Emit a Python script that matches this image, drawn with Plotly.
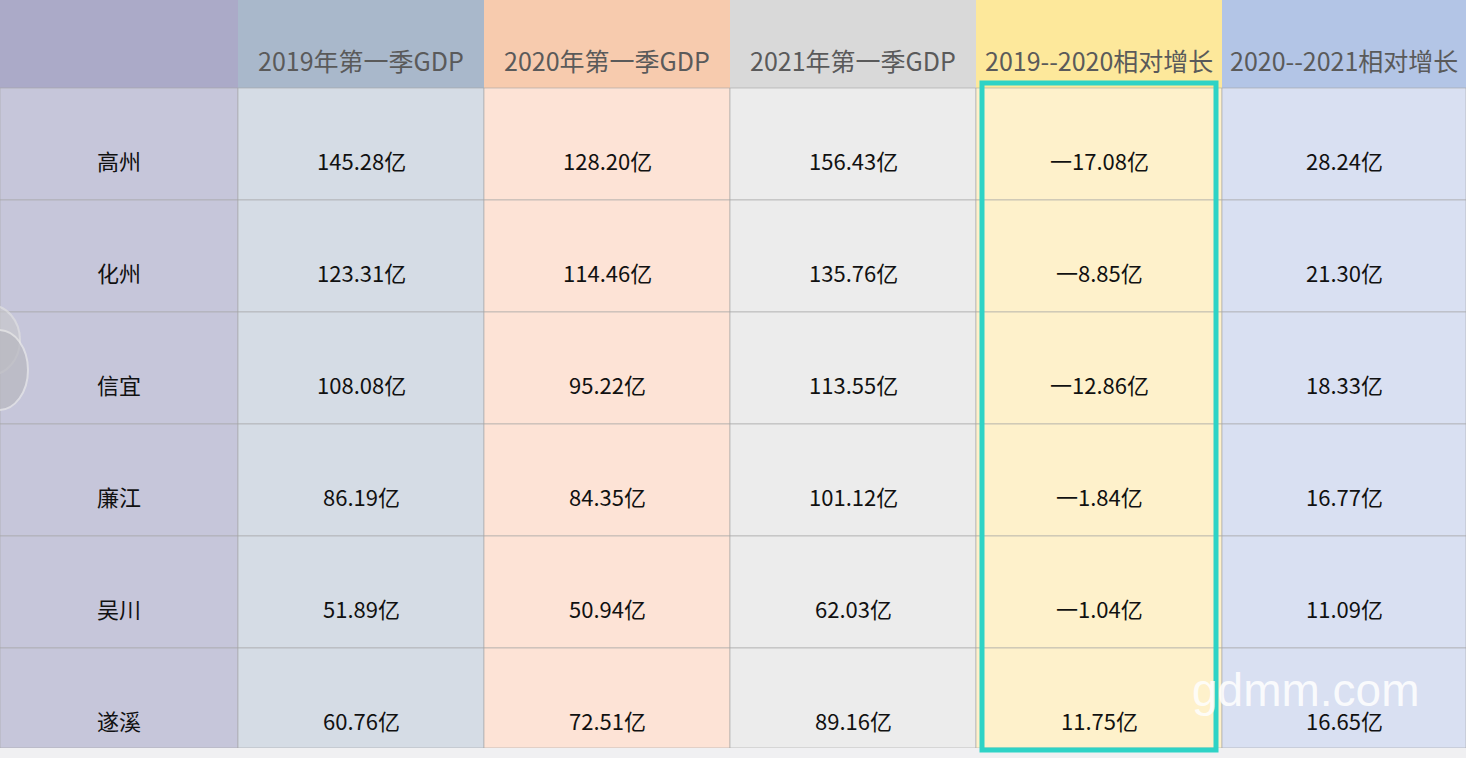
import plotly.graph_objects as go

headers = ["", "2019年第一季GDP", "2020年第一季GDP", "2021年第一季GDP", "2019--2020相对增长", "2020--2021相对增长"]
cities = ["高州", "化州", "信宜", "廉江", "吴川", "遂溪"]
gdp_2019 = ["145.28亿", "123.31亿", "108.08亿", "86.19亿", "51.89亿", "60.76亿"]
gdp_2020 = ["128.20亿", "114.46亿", "95.22亿", "84.35亿", "50.94亿", "72.51亿"]
gdp_2021 = ["156.43亿", "135.76亿", "113.55亿", "101.12亿", "62.03亿", "89.16亿"]
growth_19_20 = ["一17.08亿", "一8.85亿", "一12.86亿", "一1.84亿", "一1.04亿", "11.75亿"]
growth_20_21 = ["28.24亿", "21.30亿", "18.33亿", "16.77亿", "11.09亿", "16.65亿"]

columns = [cities, gdp_2019, gdp_2020, gdp_2021, growth_19_20, growth_20_21]
head_colors = ["#abaac8", "#a9b8cb", "#f7cbae", "#d9d9d9", "#fde89b", "#b3c5e6"]
body_colors = ["#c6c6da", "#d5dce5", "#fde3d6", "#ececec", "#fef1cb", "#d9e0f2"]

W, H = 1466, 758
col_w = 246
first_w = 238
head_h = 88
row_h = 112

def col_x(i):
    return 0 if i == 0 else first_w + (i - 1) * col_w

def col_r(i):
    return min(W, first_w + i * col_w)

fig = go.Figure()
shapes = []
annotations = []
for i, col in enumerate(columns):
    x0, x1 = col_x(i), col_r(i)
    xc = (x0 + x1) / 2
    shapes.append(dict(type="rect", x0=x0, x1=x1, y0=0, y1=head_h,
                       fillcolor=head_colors[i], line=dict(width=0), layer="below"))
    annotations.append(dict(x=xc, y=60, text=headers[i], showarrow=False,
                            font=dict(size=25, color="#5a5a5a")))
    for r, v in enumerate(col):
        y0 = head_h + r * row_h
        y1 = min(y0 + row_h, 748)
        shapes.append(dict(type="rect", x0=x0, x1=x1, y0=y0, y1=y1,
                           fillcolor=body_colors[i], line=dict(width=0.6, color="#a6a6a6"),
                           layer="below"))
        annotations.append(dict(x=xc, y=y0 + 72, text=v, showarrow=False,
                                font=dict(size=22, color="#111111")))

# bottom strip
shapes.append(dict(type="rect", x0=0, x1=W, y0=748, y1=H, fillcolor="#f0f0f2", line=dict(width=0)))
# faint circles on the left edge
shapes.append(dict(type="circle", x0=-40, x1=20, y0=305, y1=375, fillcolor="#c8c8cc",
                   line=dict(color="#e0e0e0", width=2), opacity=0.7))
shapes.append(dict(type="circle", x0=-30, x1=28, y0=330, y1=410, fillcolor="#b8b8c0",
                   line=dict(color="#e8e8e8", width=2), opacity=0.7))
# highlight box
shapes.append(dict(type="rect", x0=982, x1=1216, y0=83, y1=750,
                   line=dict(color="#2ed3c6", width=5)))

annotations.append(dict(x=1305, y=690, text="gdmm.com", showarrow=False,
                        font=dict(size=46, color="rgba(255,255,255,0.85)", family="Arial")))

fig.update_layout(
    width=W, height=H, margin=dict(l=0, r=0, t=0, b=0),
    plot_bgcolor="white", paper_bgcolor="white",
    xaxis=dict(range=[0, W], visible=False, fixedrange=True),
    yaxis=dict(range=[H, 0], visible=False, fixedrange=True),
    shapes=shapes, annotations=annotations,
    font=dict(family="Noto Sans CJK SC"),
)
fig.write_html("out.html", config={"displayModeBar": False},
               post_script="document.body.style.margin='0';")
